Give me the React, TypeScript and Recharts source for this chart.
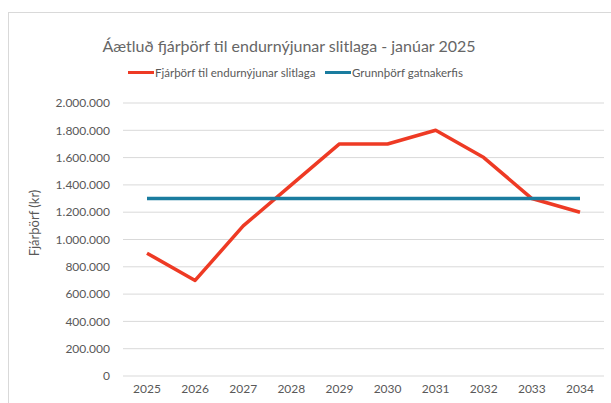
import { CartesianGrid, Legend, Line, LineChart, XAxis, YAxis } from "recharts";

const years = ["2025", "2026", "2027", "2028", "2029", "2030", "2031", "2032", "2033", "2034"];
const fjarthorf = [900000, 700000, 1100000, 1400000, 1700000, 1700000, 1800000, 1600000, 1300000, 1200000];
const grunnthorf = [1300000, 1300000, 1300000, 1300000, 1300000, 1300000, 1300000, 1300000, 1300000, 1300000];
const yTicks = [0, 200000, 400000, 600000, 800000, 1000000, 1200000, 1400000, 1600000, 1800000, 2000000];

const RED = "#EE3A24";
const BLUE = "#1A7C9F";
const TEXT = "#595959";
const FONT = "Lato, 'Open Sans', sans-serif";

const data = years.map((year, i) => ({
  year,
  fjarthorf: fjarthorf[i],
  grunnthorf: grunnthorf[i],
}));

const fmt = (v: number) => v.toLocaleString("de-DE");

const LegendContent = () => (
  <div style={{ position: "relative", height: 16, fontFamily: FONT, fontSize: 11.5, color: TEXT }}>
    <div style={{ position: "absolute", left: 128, top: 0, display: "flex", alignItems: "center" }}>
      <span style={{ width: 26, height: 3, background: RED, display: "inline-block", marginRight: 1 }} />
      <span>Fjárþörf til endurnýjunar slitlaga</span>
    </div>
    <div style={{ position: "absolute", left: 325, top: 0, display: "flex", alignItems: "center" }}>
      <span style={{ width: 26, height: 3, background: BLUE, display: "inline-block", marginRight: 1 }} />
      <span>Grunnþörf gatnakerfis</span>
    </div>
  </div>
);

export default function App() {
  return (
    <div style={{ position: "absolute", left: 0, top: 0, width: 611, height: 403, background: "#fff", overflow: "hidden" }}>
      <div
        style={{
          position: "absolute",
          left: 8,
          top: 12,
          width: 620,
          height: 400,
          borderTop: "1px solid #d9d9d9",
          borderLeft: "1px solid #d9d9d9",
        }}
      />
      <div
        style={{
          position: "absolute",
          left: 0,
          width: 578,
          top: 36,
          textAlign: "center",
          fontFamily: FONT,
          fontSize: 16,
          color: "#666",
        }}
      >
        Áætluð fjárþörf til endurnýjunar slitlaga - janúar 2025
      </div>
      <LineChart
        width={611}
        height={403}
        data={data}
        margin={{ top: 103, right: 7, left: 0, bottom: 0 }}
        style={{ position: "absolute", left: 0, top: 0 }}
      >
        <CartesianGrid vertical={false} stroke="#d9d9d9" />
        <XAxis
          dataKey="year"
          height={27}
          padding={{ left: 24, right: 24 }}
          axisLine={false}
          tickLine={false}
          tick={{ fill: TEXT, fontSize: 12, fontFamily: FONT }}
        />
        <YAxis
          width={123}
          domain={[0, 2000000]}
          ticks={yTicks}
          axisLine={false}
          tickLine={false}
          tickMargin={7}
          tickFormatter={fmt}
          tick={{ fill: TEXT, fontSize: 12, fontFamily: FONT }}
          label={() => (
            <text
              x={36}
              y={223}
              transform="rotate(-90 36 223)"
              textAnchor="middle"
              dominantBaseline="middle"
              fill={TEXT}
              fontSize={13}
              fontFamily={FONT}
            >
              Fjárþörf (kr)
            </text>
          )}
        />
        <Legend
          layout="horizontal"
          verticalAlign="middle"
          align="center"
          wrapperStyle={{ top: 66, left: 0, width: 611 }}
          content={<LegendContent />}
        />
        <Line
          dataKey="fjarthorf"
          name="Fjárþörf til endurnýjunar slitlaga"
          stroke={RED}
          strokeWidth={3.5}
          dot={false}
          strokeLinejoin="round"
          isAnimationActive={false}
        />
        <Line
          dataKey="grunnthorf"
          name="Grunnþörf gatnakerfis"
          stroke={BLUE}
          strokeWidth={3.5}
          dot={false}
          isAnimationActive={false}
        />
      </LineChart>
    </div>
  );
}
